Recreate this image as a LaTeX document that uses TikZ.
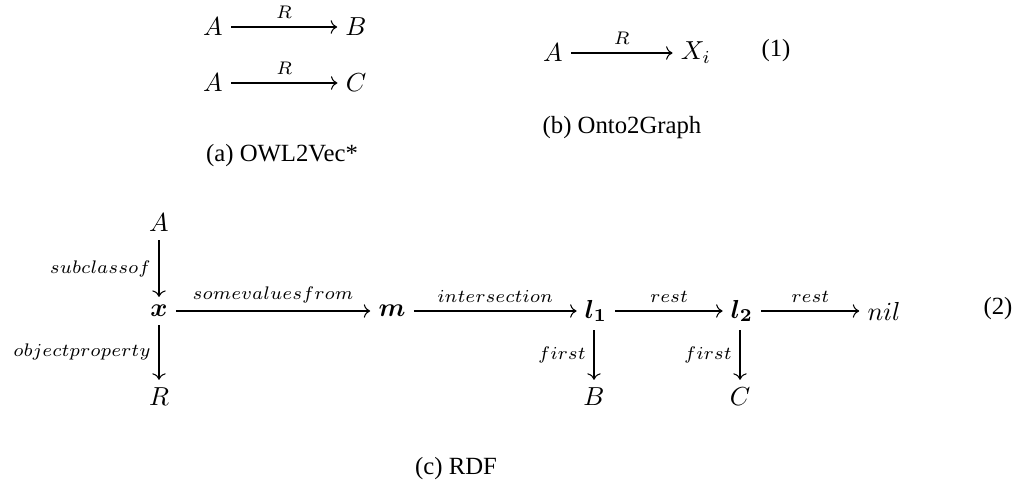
\documentclass[tikz,border=0pt]{standalone}
\usepackage{amsmath,amssymb}
\usepackage{fontspec}
\newfontfamily\captionfont{Liberation Serif}
\usetikzlibrary{positioning,cd}
\newcommand{\diagUnit}{0.384pt}
\tikzset{
  dg obj/.style={inner xsep=3pt, inner ysep=3pt, font=\normalsize},
  dg lbl/.style={inner sep=0.3em, font=\normalsize},
  dg arrow/.style={->,>=cm to, line width=0.4pt},
  dg caption/.style={font=\captionfont\fontsize{9.5}{11}\selectfont},
  dg eqno/.style={font=\captionfont\fontsize{9.5}{11}\selectfont},
}

\begin{document}
\begin{tikzpicture}[x=\diagUnit, y=-\diagUnit]
\useasboundingbox (0,0) rectangle (1021,488);

% (a) OWL2Vec*
\node (aA1) [dg obj] at (213,27) {$A$};
\node (aB)  [dg obj] at (356,27) {$B$};
\node (aA2) [dg obj] at (213,83) {$A$};
\node (aC)  [dg obj] at (356,83) {$C$};
\draw [dg arrow] (aA1) -- node[above, dg lbl] {$\scriptstyle R$} (aB);
\draw [dg arrow] (aA2) -- node[above, dg lbl] {$\scriptstyle R$} (aC);
\node (capa) [dg caption] at (282,156) {(a) OWL2Vec*};

% (b) Onto2Graph
\node (bA) [dg obj] at (553,53) {$A$};
\node (bX) [dg obj] at (696,53) {$X_i$};
\draw [dg arrow] (bA) -- node[above, dg lbl] {$\scriptstyle R$} (bX);
\node (eq1)  [dg eqno] at (776,51) {(1)};
\node (capb) [dg caption] at (622,128) {(b) Onto2Graph};

% (c) RDF
\node (cA)   [dg obj] at (159,223) {$A$};
\node (cx)   [dg obj] at (159,311) {$\boldsymbol{x}$};
\node (cR)   [dg obj] at (159,397) {$R$};
\node (cm)   [dg obj] at (392,311) {$\boldsymbol{m}$};
\node (cl1)  [dg obj] at (596,311) {$\boldsymbol{l_1}$};
\node (cl2)  [dg obj] at (742,311) {$\boldsymbol{l_2}$};
\node (cnil) [dg obj] at (884,311) {$nil$};
\node (cB)   [dg obj] at (594,397) {$B$};
\node (cC)   [dg obj] at (740,397) {$C$};

\draw [dg arrow] (cA)  -- node[left, dg lbl] {$\scriptstyle subclassof$} (cx);
\draw [dg arrow] (cx)  -- node[left, dg lbl] {$\scriptstyle objectproperty$} (cR);
\draw [dg arrow] (cx)  -- node[above, dg lbl] {$\scriptstyle somevaluesfrom$} (cm);
\draw [dg arrow] (cm)  -- node[above, dg lbl] {$\scriptstyle intersection$} (cl1);
\draw [dg arrow] (cl1) -- node[above, dg lbl] {$\scriptstyle rest$} (cl2);
\draw [dg arrow] (cl2) -- node[above, dg lbl] {$\scriptstyle rest$} (cnil);
\draw [dg arrow] (cl1.south -| cB) -- node[left, dg lbl] {$\scriptstyle first$} (cB);
\draw [dg arrow] (cl2.south -| cC) -- node[left, dg lbl] {$\scriptstyle first$} (cC);

\node (eq2)  [dg eqno] at (998,309) {(2)};
\node (capc) [dg caption] at (456,469) {(c) RDF};
\end{tikzpicture}
\end{document}
